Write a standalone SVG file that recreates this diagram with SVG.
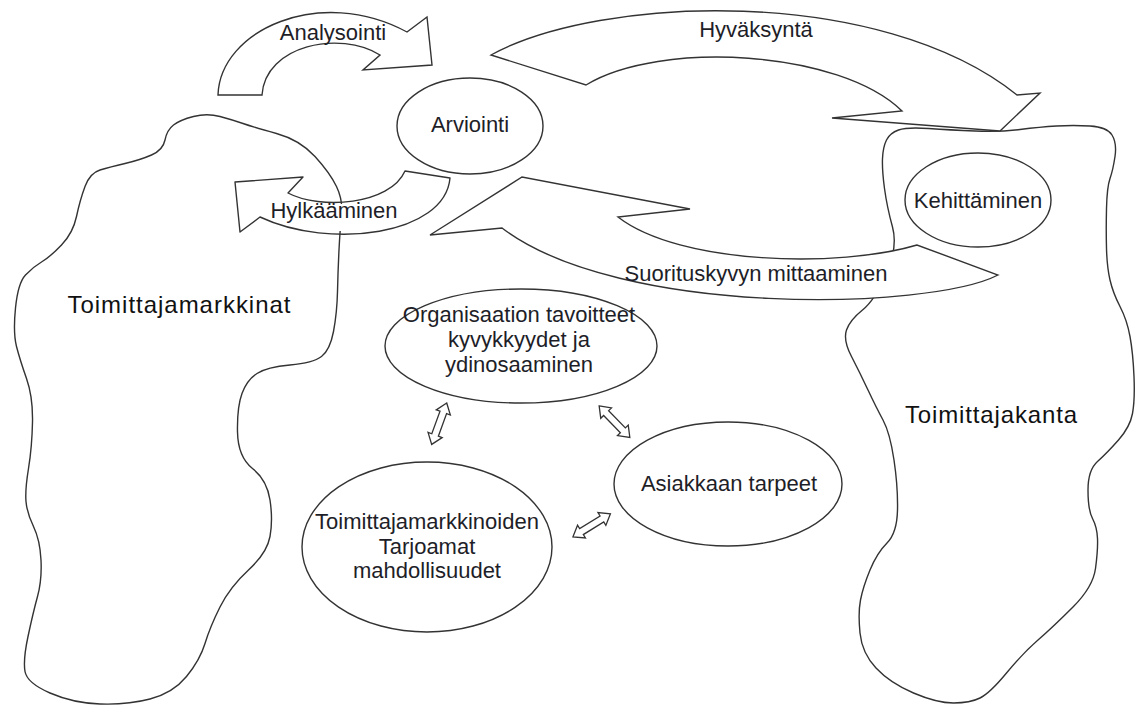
<svg xmlns="http://www.w3.org/2000/svg" xmlns:xlink="http://www.w3.org/1999/xlink" width="1136" height="706" viewBox="0 0 1136 706">
  <style>
    .outline { fill: none; stroke: #333; stroke-width: 1.4; stroke-linejoin: round; }
    .solid { fill: #fff; stroke: #333; stroke-width: 1.4; stroke-linejoin: miter; }
    .lbl { font-family: "Liberation Sans", Arial, sans-serif; font-size: 22px; fill: #1e1e28; text-anchor: middle; }
    .big { font-family: "Liberation Sans", Arial, sans-serif; font-size: 24px; fill: #111; text-anchor: middle; }
  </style>
  <defs>
    <!-- two-headed block arrow, centred on the origin along x -->
    <polygon id="dbl" points="-22,0 -12,-7.5 -12,-3.5 12,-3.5 12,-7.5 22,0 12,7.5 12,3.5 -12,3.5 -12,7.5" fill="#fff" stroke="#333" stroke-width="1.3" stroke-linejoin="miter"/>
  </defs>
  <rect width="1136" height="706" fill="#fff"/>

  <!-- supplier market region -->
  <g id="toimittajamarkkinat">
    <path class="outline" d="M151.5,155 Q163,150 165,140 Q167,130 173.5,125 Q180,120 193.5,116.5 Q207,113 220,116.5 Q233,120 243,123.5 Q253,127 276.5,133.5 Q300,140 315,156.5 Q330,173 336.5,186.5 Q343,200 341.5,215 Q340,230 339,250 Q338,270 337.5,291.5 Q337,313 333.5,331.5 Q330,350 321.5,356.5 Q313,363 290,365 Q267,367 257,373.5 Q247,380 242,393.5 Q237,407 237.5,432 Q238,457 252.5,468.5 Q267,480 270,500 Q273,520 270,536.5 Q267,553 248.5,570 Q230,587 220,607 Q210,627 205,643.5 Q200,660 186.5,676.5 Q173,693 150,699 Q127,705 100,704 Q73,703 50,693 Q27,683 25,671.5 Q23,660 28,636.5 Q33,613 37.5,596.5 Q42,580 41,560 Q40,540 33.5,526.5 Q27,513 26,501.5 Q25,490 28.5,468.5 Q32,447 32.5,422 Q33,397 26.5,378.5 Q20,360 16.5,346.5 Q13,333 15.5,308 Q18,283 25.5,275 Q33,267 41.5,262 Q50,257 61.5,245 Q73,233 76.5,216.5 Q80,200 85,186.5 Q90,173 100,170 Q110,167 125,163.5 Q140,160 151.5,155 Z"/>
    <text class="big" x="179" y="313" textLength="223" lengthAdjust="spacing">Toimittajamarkkinat</text>
  </g>

  <!-- supplier base region -->
  <g id="toimittajakanta">
    <path class="outline" d="M882.5,158.5 Q883,147 886.5,140 Q890,133 898.5,130 Q907,127 928.5,128.5 Q950,130 975,131 Q1000,132 1020,129.5 Q1040,127 1056.5,126 Q1073,125 1090,126 Q1107,127 1112,135 Q1117,143 1115,156.5 Q1113,170 1110,178.5 Q1107,187 1106.5,208.5 Q1106,230 1106.5,248.5 Q1107,267 1110,280 Q1113,293 1120,306.5 Q1127,320 1130,336.5 Q1133,353 1134,376.5 Q1135,400 1132.5,413.5 Q1130,427 1118.5,440 Q1107,453 1097.5,461.5 Q1088,470 1088,490 Q1088,510 1092.5,518.5 Q1097,527 1097.5,538.5 Q1098,550 1095.5,568.5 Q1093,587 1073,607 Q1053,627 1038,640 Q1023,653 1006.5,673 Q990,693 980,698 Q970,703 953.5,703 Q937,703 913.5,693 Q890,683 876,668 Q862,653 860,633 Q858,613 860.5,600 Q863,587 870,570 Q877,553 887,543 Q897,533 897.5,510 Q898,487 894,460 Q890,433 883,420 Q876,407 868,390 Q860,373 851.5,356.5 Q843,340 846.5,330 Q850,320 862.5,310 Q875,300 886.5,273.5 Q898,247 892.5,227 Q887,207 884.5,188.5 Q882,170 882.5,158.5 Z"/>
    <text class="big" x="991" y="423" textLength="172" lengthAdjust="spacing">Toimittajakanta</text>
  </g>

  <!-- curved block arrows between the stages -->
  <g id="connectors">
    <g id="analysointi">
      <path class="solid" d="M218,95 C220,30 320,-15 407,32 L427,17 L432,65 L363,70 L380,55 C340,30 265,45 262,95 Z"/>
      <text class="lbl" x="333" y="40">Analysointi</text>
    </g>
    <g id="hyvaksynta">
      <path class="solid" d="M491,55 C600,-5 880,-15 1017,95 L1040,93 L1000,131 L832,118 L902,111 C840,50 660,40 586,85 Z"/>
      <text class="lbl" x="756" y="37">Hyväksyntä</text>
    </g>
    <g id="hylkaaminen">
      <path class="outline" d="M450,178 C445,235 330,250 260,217 L240,232 L235,182 L303,177 L288,193 C320,210 390,205 405,171 Z"/>
      <rect x="327" y="204" width="24" height="27" fill="#fff"/>
      <text class="lbl" x="334" y="218">Hylkääminen</text>
    </g>
    <g id="suorituskyky">
      <path class="solid" d="M430,235 L522,177 L690,209 L618,217 C680,265 840,268 917,245 L998,275 C930,310 620,318 502,228 Z"/>
      <text class="lbl" x="756" y="281">Suorituskyvyn mittaaminen</text>
    </g>
    <use xlink:href="#dbl" transform="translate(439.2,423.7) rotate(110)"/>
    <use xlink:href="#dbl" transform="translate(614.5,421.7) rotate(45.8)"/>
    <use xlink:href="#dbl" transform="translate(591.7,525.3) rotate(-31.7)"/>
  </g>

  <g id="arviointi">
    <ellipse class="solid" cx="470" cy="126" rx="73" ry="48"/>
    <text class="lbl" x="470" y="132">Arviointi</text>
  </g>

  <g id="kehittaminen">
    <ellipse class="solid" cx="978" cy="200" rx="73" ry="47"/>
    <text class="lbl" x="978" y="208">Kehittäminen</text>
  </g>

  <g id="organisaatio">
    <ellipse class="solid" cx="521" cy="346" rx="136" ry="57"/>
    <text class="lbl" x="519" y="322">Organisaation tavoitteet</text>
    <text class="lbl" x="519" y="347">kyvykkyydet ja</text>
    <text class="lbl" x="519" y="372">ydinosaaminen</text>
  </g>

  <g id="mahdollisuudet">
    <ellipse class="solid" cx="427" cy="547" rx="125" ry="85"/>
    <text class="lbl" x="427" y="529">Toimittajamarkkinoiden</text>
    <text class="lbl" x="427" y="554">Tarjoamat</text>
    <text class="lbl" x="427" y="578">mahdollisuudet</text>
  </g>

  <g id="asiakkaan-tarpeet">
    <ellipse class="solid" cx="728" cy="484" rx="114" ry="62"/>
    <text class="lbl" x="729" y="491">Asiakkaan tarpeet</text>
  </g>
</svg>
